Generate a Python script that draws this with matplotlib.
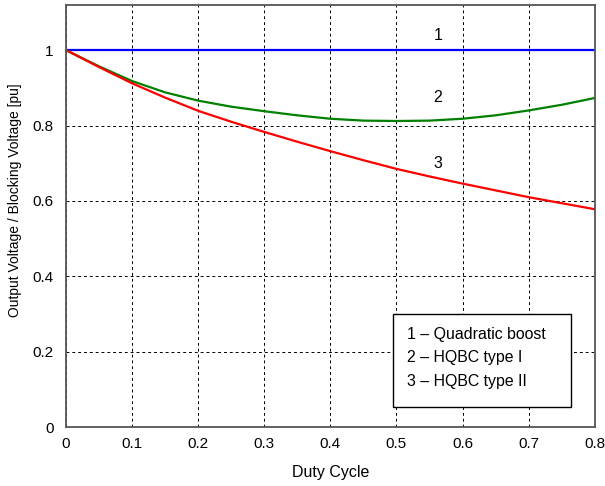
import matplotlib.pyplot as plt
from matplotlib.patches import Rectangle

plt.rcParams['font.family'] = ['Liberation Sans', 'DejaVu Sans']

# duty cycle sample points
duty = [0.0, 0.05, 0.1, 0.15, 0.2, 0.25, 0.3, 0.35, 0.4,
        0.45, 0.5, 0.55, 0.6, 0.65, 0.7, 0.75, 0.8]

# 1 - quadratic boost (constant)
v_quad = [1.0] * len(duty)
# 2 - HQBC type I
v_type1 = [1.0, 0.957, 0.918, 0.888, 0.866, 0.850, 0.838, 0.827, 0.818,
           0.813, 0.812, 0.813, 0.818, 0.827, 0.840, 0.855, 0.873]
# 3 - HQBC type II
v_type2 = [1.0, 0.955, 0.912, 0.874, 0.839, 0.810, 0.783, 0.757, 0.732,
           0.708, 0.685, 0.665, 0.646, 0.628, 0.610, 0.594, 0.578]

legend_lines = ["1 \u2013 Quadratic boost", "2 \u2013 HQBC type I", "3 \u2013 HQBC type II"]

fig = plt.figure(figsize=(6.05, 4.86), dpi=100)
ax = fig.add_axes([0.109, 0.121, 0.874, 0.869])

ax.plot(duty, v_quad, color='#0000ff', lw=1.6)
ax.plot(duty, v_type1, color='#008000', lw=1.6)
ax.plot(duty, v_type2, color='#ff0000', lw=1.6)

# curve numbers
ax.text(0.5625, 1.04, "1", fontsize=11.5, ha='center', va='center')
ax.text(0.5625, 0.873, "2", fontsize=11.5, ha='center', va='center')
ax.text(0.5625, 0.70, "3", fontsize=11.5, ha='center', va='center')

ax.set_xlim(0, 0.8)
ax.set_ylim(0, 1.12)
ax.set_xticks([0, 0.1, 0.2, 0.3, 0.4, 0.5, 0.6, 0.7, 0.8])
ax.set_xticklabels(["0", "0.1", "0.2", "0.3", "0.4", "0.5", "0.6", "0.7", "0.8"])
ax.set_yticks([0, 0.2, 0.4, 0.6, 0.8, 1])
ax.set_yticklabels(["0", "0.2", "0.4", "0.6", "0.8", "1"])
ax.tick_params(length=0, labelsize=11)
ax.tick_params(axis='x', pad=7)
ax.tick_params(axis='y', pad=9)
ax.grid(True, color='black', linestyle=(0, (3, 3)), linewidth=0.7)
for s in ax.spines.values():
    s.set_color('#555555')
    s.set_linewidth(1.3)

ax.set_xlabel("Duty Cycle", fontsize=11.5, labelpad=10)
ax.set_ylabel("Output Voltage / Blocking Voltage [pu]", fontsize=10)
ax.yaxis.set_label_coords(-0.083, 0.538)

# legend box with text only entries
box = Rectangle((0.618, 0.047), 0.337, 0.221, transform=ax.transAxes,
                facecolor='white', edgecolor='black', lw=1.0, zorder=5)
ax.add_patch(box)
for i, t in enumerate(legend_lines):
    ax.text(0.645, 0.220 - i * 0.056, t, transform=ax.transAxes, fontsize=11.4,
            va='center', ha='left', zorder=6)

fig.savefig("out.png", dpi=100)
